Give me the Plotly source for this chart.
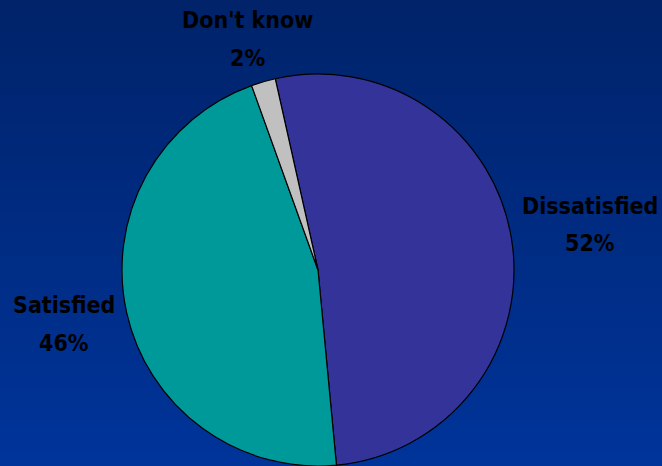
import plotly.graph_objects as go

# Data
categories = ["Dissatisfied", "Satisfied", "Don't know"]
values = [52, 46, 2]
colors = ["#333399", "#009999", "#C0C0C0"]

W, H = 662, 466
ML, MR, MT, MB = 0, 26, 74, 0
PW, PH = W - ML - MR, H - MT - MB

def px_to_paper(x, y):
    return (x - ML) / PW, (H - MB - y) / PH

fig = go.Figure(go.Pie(
    labels=categories,
    values=values,
    marker=dict(colors=colors, line=dict(color="black", width=1.2)),
    sort=False,
    direction="clockwise",
    rotation=-12.6,
    textinfo="none",
    hoverinfo="label+percent",
    showlegend=False,
))

# background vertical gradient (style only)
shapes = []
n = 60
top = (0x00, 0x23, 0x6A)
bot = (0x00, 0x34, 0x9A)
for i in range(n):
    t = i / (n - 1)
    c = tuple(int(round(top[k] + (bot[k] - top[k]) * t)) for k in range(3))
    y0 = H * i / n
    y1 = H * (i + 1) / n + 1
    _, p0 = px_to_paper(0, y0)
    _, p1 = px_to_paper(0, y1)
    x0, _ = px_to_paper(0, 0)
    x1, _ = px_to_paper(W, 0)
    shapes.append(dict(type="rect", xref="paper", yref="paper", x0=x0, x1=x1,
                       y0=p1, y1=p0, fillcolor="rgb(%d,%d,%d)" % c,
                       line=dict(width=0), layer="below"))

label_pos = {
    "Dissatisfied": (590, 206, 243),
    "Satisfied": (64, 305, 343),
    "Don't know": (247, 20, 58),
}
annotations = []
font = dict(family="DejaVu Sans Condensed", size=23, color="black")
for cat, val in zip(categories, values):
    x, y1, y2 = label_pos[cat]
    for txt, yy in ((cat, y1), (f"{val}%", y2)):
        ax, ay = px_to_paper(x, yy)
        annotations.append(dict(text=f"<b>{txt}</b>", x=ax, y=ay, xref="paper", yref="paper",
                                showarrow=False, xanchor="center", yanchor="middle", font=font))

fig.update_layout(
    width=W, height=H,
    margin=dict(l=ML, r=MR, t=MT, b=MB),
    paper_bgcolor="#002a80",
    plot_bgcolor="rgba(0,0,0,0)",
    shapes=shapes,
    annotations=annotations,
)
fig.write_html("out.html", config={"displayModeBar": False},
               post_script="document.body.style.margin='0';document.body.style.overflow='hidden';")
